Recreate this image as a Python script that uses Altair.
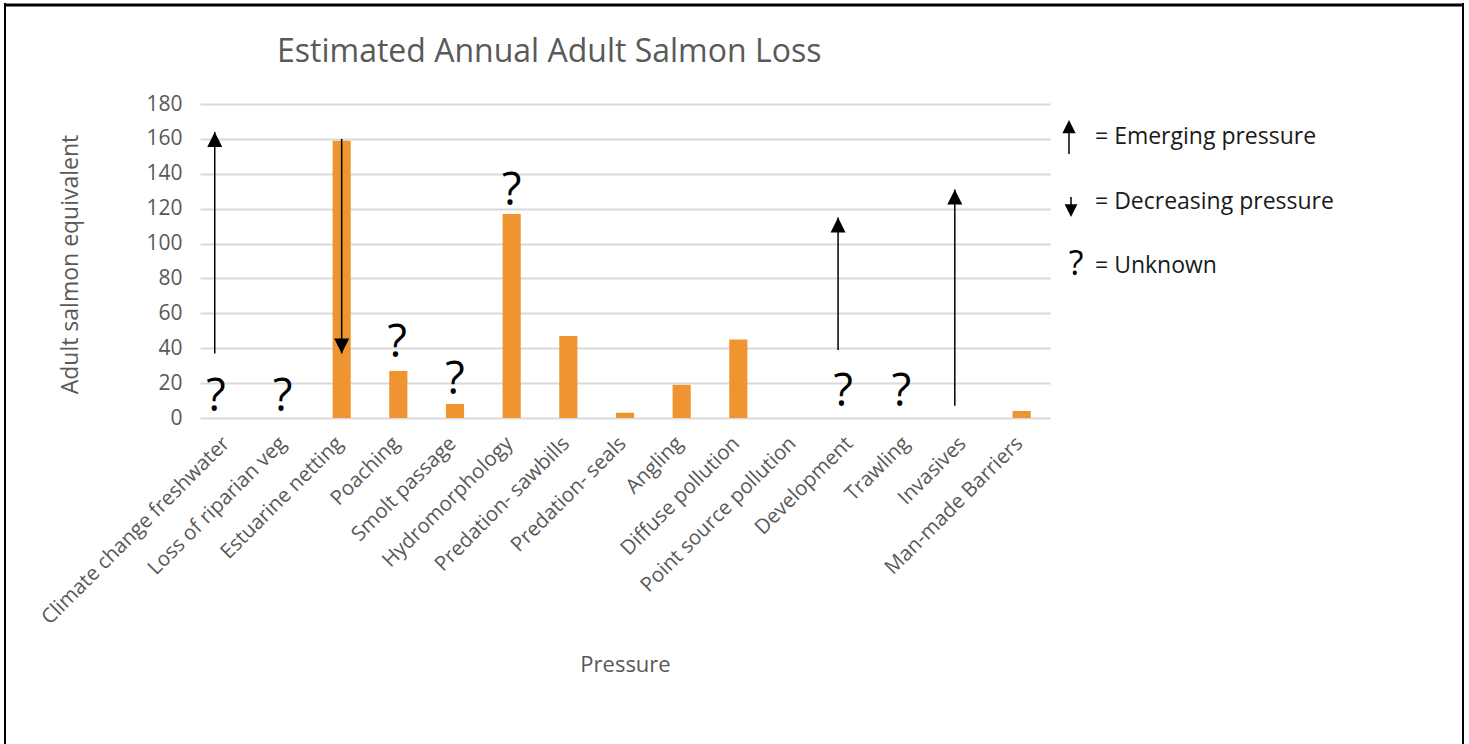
import altair as alt
import pandas as pd

# Pressures on adult salmon and estimated annual loss (adult salmon equivalent)
pressures = [
    "Climate change freshwater", "Loss of riparian veg", "Estuarine netting",
    "Poaching", "Smolt passage", "Hydromorphology", "Predation- sawbills",
    "Predation- seals", "Angling", "Diffuse pollution", "Point source pollution",
    "Development", "Trawling", "Invasives", "Man-made Barriers",
]
losses = [0, 0, 159, 27, 8, 117, 47, 3, 19, 45, 0, 0, 0, 0, 4]

# Trend arrows: pressure, tail value, head value
arrow_pressures = ["Climate change freshwater", "Estuarine netting", "Development", "Invasives"]
arrow_tails = [37, 160, 39, 7]
arrow_heads = [164, 37, 115, 131]

# Unknown-size markers: pressure and the value the "?" sits on
unknown_pressures = ["Climate change freshwater", "Loss of riparian veg", "Poaching",
                     "Smolt passage", "Hydromorphology", "Development", "Trawling"]
unknown_levels = [4, 4, 35, 14, 122, 7, 7]

y_ticks = [0, 20, 40, 60, 80, 100, 120, 140, 160, 180]

# Horizontal nudges (in category widths) for the hand-placed annotations
arrow_nudge = [-0.24, 0.0, -0.24, -0.18]
unknown_nudge = [-0.22, -0.04, -0.02, 0.0, 0.0, -0.15, -0.12]

FONT = "Open Sans"
GREY = "#595959"
ORANGE = "#EE9430"
W, H = 850, 314

idx = {p: i for i, p in enumerate(pressures)}

bars_df = pd.DataFrame({"Pressure": pressures, "Loss": losses})
arrows_df = pd.DataFrame({
    "pos": [idx[p] + n for p, n in zip(arrow_pressures, arrow_nudge)],
    "tail": arrow_tails,
    "head": arrow_heads,
})
arrows_df["dir"] = ["up" if h > t else "down" for t, h in zip(arrow_tails, arrow_heads)]
unknown_df = pd.DataFrame({
    "pos": [idx[p] + n for p, n in zip(unknown_pressures, unknown_nudge)],
    "level": unknown_levels,
})

y_scale = alt.Scale(domain=[0, 180], nice=False)
pos_scale = alt.Scale(domain=[-0.5, len(pressures) - 0.5], nice=False, zero=False)

# One y axis definition shared by every layer so the merged axis keeps it
y_axis = alt.Axis(
    title="Adult salmon equivalent", values=y_ticks, ticks=False,
    domain=False, labelOverlap=False,
    labelFontSize=21, labelColor=GREY, labelFont=FONT, labelPadding=18,
    gridColor="#D9D9D9", gridWidth=2,
    titleFont=FONT, titleFontSize=23, titleFontWeight="normal", titleColor=GREY,
    titleX=-130, titleY=160, titleBaseline="middle", titleAngle=-90,
)

UP = "M0,0L0.5,1L-0.5,1Z"
DOWN = "M0,0L0.5,-1L-0.5,-1Z"

bars = alt.Chart(bars_df).mark_bar(color=ORANGE).encode(
    x=alt.X(
        "Pressure:N", sort=pressures,
        scale=alt.Scale(paddingInner=0.68, paddingOuter=0.34),
        axis=alt.Axis(
            title="Pressure", labelAngle=-45, labelAlign="right", labelBaseline="middle",
            labelPadding=22, labelOffset=-2, labelFontSize=20.5, labelColor=GREY,
            labelFont=FONT, ticks=False, domain=False, grid=False, labelLimit=400,
            titleFont=FONT, titleFontSize=22, titleFontWeight="normal", titleColor=GREY,
            titleY=246, titleBaseline="middle", titleX=W / 2,
        ),
    ),
    y=alt.Y("Loss:Q", scale=y_scale, axis=y_axis),
)

shafts = alt.Chart(arrows_df).mark_rule(color="black", strokeWidth=1.5).encode(
    x=alt.X("pos:Q", scale=pos_scale, axis=None),
    y=alt.Y("tail:Q", scale=y_scale, axis=y_axis),
    y2="head:Q",
)
heads_up = alt.Chart(arrows_df).transform_filter(alt.datum.dir == "up").mark_point(
    shape=UP, size=900, filled=True, color="black", opacity=1, strokeWidth=0
).encode(
    x=alt.X("pos:Q", scale=pos_scale, axis=None),
    y=alt.Y("head:Q", scale=y_scale, axis=y_axis),
)
heads_down = alt.Chart(arrows_df).transform_filter(alt.datum.dir == "down").mark_point(
    shape=DOWN, size=900, filled=True, color="black", opacity=1, strokeWidth=0
).encode(
    x=alt.X("pos:Q", scale=pos_scale, axis=None),
    y=alt.Y("head:Q", scale=y_scale, axis=y_axis),
)
unknowns = alt.Chart(unknown_df).mark_text(
    text="?", font=FONT, fontSize=45, color="black", baseline="alphabetic"
).encode(
    x=alt.X("pos:Q", scale=pos_scale, axis=None),
    y=alt.Y("level:Q", scale=y_scale, axis=y_axis),
)

# Title and key, placed in pixels relative to the plot area
title = alt.Chart().mark_text(
    text="Estimated Annual Adult Salmon Loss", font=FONT, fontSize=32, color=GREY,
    align="left", baseline="alphabetic",
).encode(x=alt.value(77), y=alt.value(-42))

key_text = [
    alt.Chart().mark_text(text=t, font=FONT, fontSize=23, color="#1a1a1a",
                          align="left", baseline="middle").encode(
        x=alt.value(895), y=alt.value(yy))
    for t, yy in [("= Emerging pressure", 33), ("= Decreasing pressure", 98), ("= Unknown", 162)]
]
key_q = alt.Chart().mark_text(text="?", font=FONT, fontSize=34, color="black",
                              align="center", baseline="alphabetic").encode(
    x=alt.value(876), y=alt.value(171))
key_up_shaft = alt.Chart().mark_rule(color="black", strokeWidth=1.5).encode(
    x=alt.value(869), y=alt.value(24), y2=alt.value(50))
key_up_head = alt.Chart().mark_point(shape=UP, size=700, filled=True, color="black",
                                     opacity=1, strokeWidth=0).encode(
    x=alt.value(869), y=alt.value(16))
key_down_shaft = alt.Chart().mark_rule(color="black", strokeWidth=1.5).encode(
    x=alt.value(871), y=alt.value(93), y2=alt.value(104))
key_down_head = alt.Chart().mark_point(shape=DOWN, size=650, filled=True, color="black",
                                       opacity=1, strokeWidth=0).encode(
    x=alt.value(871), y=alt.value(113))

# Page frame
frame = [
    alt.Chart().mark_rule(color="black", strokeWidth=2).encode(
        x=alt.value(-195), y=alt.value(-101), y2=alt.value(660)),
    alt.Chart().mark_rule(color="black", strokeWidth=2).encode(
        x=alt.value(1263), y=alt.value(-101), y2=alt.value(660)),
    alt.Chart().mark_rule(color="black", strokeWidth=3).encode(
        x=alt.value(-196), x2=alt.value(1264), y=alt.value(-99)),
]

chart = alt.layer(
    bars, shafts, heads_up, heads_down, unknowns, title,
    *key_text, key_q, key_up_shaft, key_up_head, key_down_shaft, key_down_head,
    *frame,
).resolve_scale(x="independent").properties(
    width=W, height=H,
    background="white",
    autosize=alt.AutoSizeParams(type="none"),
    padding={"left": 200, "top": 104, "right": 419, "bottom": 326},
).configure_view(strokeWidth=0)

chart.save("out.html", embed_options={"renderer": "svg", "actions": False})
